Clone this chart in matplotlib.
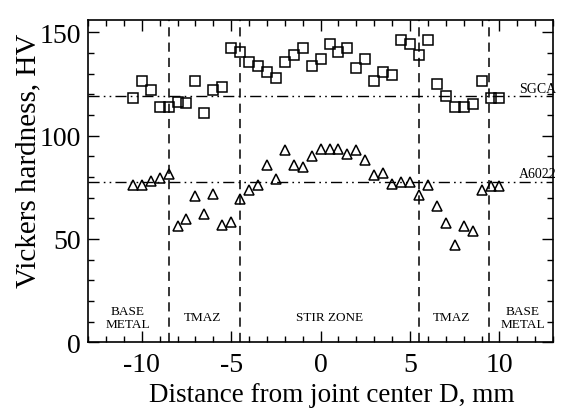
import numpy as np
import matplotlib
matplotlib.use("Agg")
import matplotlib.pyplot as plt
from matplotlib.ticker import MultipleLocator

# distance from joint center (mm)
distance = [-10.5, -10, -9.5, -9, -8.5, -8, -7.5, -7, -6.5, -6, -5.5, -5, -4.5, -4,
            -3.5, -3, -2.5, -2, -1.5, -1, -0.5, 0, 0.5, 1, 1.5, 2, 2.5, 3, 3.5, 4,
            4.5, 5, 5.5, 6, 6.5, 7, 7.5, 8, 8.5, 9, 9.5, 10]

# SGCA hardness (squares)
hv_sgca = [118, 126.4, 122, 114, 114, 116.3, 115.8, 126.4, 111, 122, 123.3, 142.6,
           140.6, 135.8, 133.8, 130.9, 127.7, 135.8, 139, 142.6, 133.8, 137, 144.2,
           140.6, 142.6, 132.5, 137, 126.4, 130.9, 129.3, 146.3, 144.3, 139, 146.3,
           124.8, 119.3, 113.9, 113.9, 115.2, 126.4, 118, 118]

# A6022 hardness (triangles)
hv_a6022 = [75.9, 75.9, 78, 79.6, 81.2, 56.2, 59.7, 70.7, 62.1, 71.5, 56.5, 58.4,
            69.4, 73.8, 75.9, 85.9, 78.8, 92.9, 85.9, 84.8, 90.1, 93.7, 93.7, 93.7,
            90.9, 92.9, 88, 81.1, 82, 76.7, 77.4, 77.4, 71.3, 75.9, 65.9, 57.6, 47.2,
            56, 53.7, 73.6, 75.5, 75.5]

# base metal reference levels
base_levels = [119, 77.5]
base_names = ["SGCA", "A6022"]

# zone boundaries and labels
zone_bounds = [-8.5, -4.5, 5.5, 9.4]
zone_labels = ["BASE\nMETAL", "TMAZ", "STIR ZONE", "TMAZ", "BASE\nMETAL"]
zone_centers = [-10.8, -6.6, 0.5, 7.3, 11.3]

plt.rcParams["font.family"] = ["Liberation Serif", "DejaVu Serif"]

fig = plt.figure(figsize=(5.61, 4.10), dpi=100)
ax = fig.add_axes([0.157, 0.163, 0.829, 0.786])

ax.plot(distance, hv_sgca, "s", ms=6.8, mfc="none", mec="black", mew=1.1)
ax.plot(distance, hv_a6022, "^", ms=7.5, mfc="none", mec="black", mew=1.1)

for lvl, name in zip(base_levels, base_names):
    ax.axhline(lvl, color="black", lw=1.0, dashes=(8, 3, 1.2, 3, 1.2, 3))
    ax.text(13.2, lvl + 0.8, name, ha="right", va="bottom", fontsize=10,
            clip_on=False)

for xb in zone_bounds:
    ax.axvline(xb, color="black", lw=1.1, dashes=(6, 4))

for xc, lab in zip(zone_centers, zone_labels):
    ax.text(xc, 12, lab, ha="center", va="center", fontsize=9.5, linespacing=1.05)

ax.set_xlim(-13, 13)
ax.set_ylim(0, 156)
ax.xaxis.set_major_locator(MultipleLocator(5))
ax.xaxis.set_minor_locator(MultipleLocator(1))
ax.yaxis.set_major_locator(MultipleLocator(50))
ax.yaxis.set_minor_locator(MultipleLocator(10))
ax.tick_params(which="both", direction="in", top=True, right=True, width=1.0)
ax.tick_params(which="major", length=8, labelsize=20)
ax.tick_params(axis="x", which="major", pad=7)
ax.tick_params(axis="y", which="major", pad=5)
ax.tick_params(which="minor", length=4)
ax.set_xticks([-10, -5, 0, 5, 10])
ax.set_xticklabels(["-10", "-5", "0", "5", "10"])
for s in ax.spines.values():
    s.set_linewidth(1.2)

ax.set_xlabel("Distance from joint center D, mm", fontsize=19.5)
ax.set_ylabel("Vickers hardness, HV", fontsize=21)
ax.xaxis.set_label_coords(0.523, -0.125)
ax.yaxis.set_label_coords(-0.10, 0.565)

fig.savefig("out.png", dpi=100)
